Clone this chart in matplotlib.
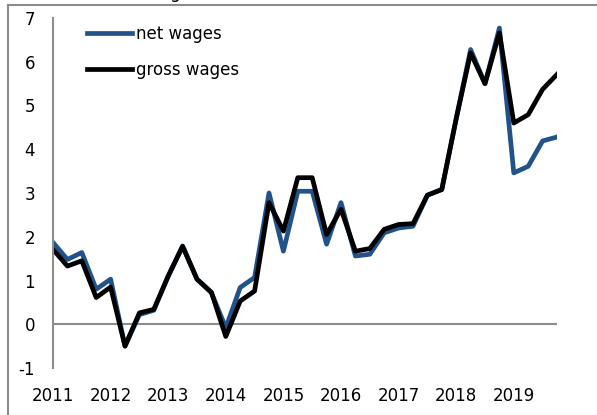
import matplotlib.pyplot as plt
from matplotlib.lines import Line2D
import numpy as np

plt.rcParams["axes.unicode_minus"] = False

# quarterly wage growth, 2011 Q1 - 2019 Q4 (%)
years = ["2011", "2012", "2013", "2014", "2015", "2016", "2017", "2018", "2019"]

net_wages = [1.87, 1.48, 1.64, 0.80, 1.03, -0.50, 0.22, 0.32, 1.10, 1.79,
             1.03, 0.72, -0.08, 0.84, 1.07, 3.00, 1.67, 3.04, 3.04, 1.83,
             2.78, 1.56, 1.60, 2.09, 2.20, 2.24, 2.95, 3.08, 4.70, 6.28,
             5.50, 6.77, 3.46, 3.61, 4.19, 4.28]

gross_wages = [1.71, 1.33, 1.45, 0.61, 0.85, -0.50, 0.26, 0.34, 1.10, 1.78,
               1.03, 0.73, -0.28, 0.53, 0.76, 2.78, 2.13, 3.35, 3.35, 2.05,
               2.63, 1.67, 1.73, 2.17, 2.28, 2.30, 2.95, 3.08, 4.70, 6.20,
               5.50, 6.66, 4.60, 4.79, 5.37, 5.71]

net_color = "#22528a"
grid_gray = "#8c8c8c"

fig = plt.figure(figsize=(5.97, 4.15), dpi=100)
ax = fig.add_axes([53 / 597, 1 - 368 / 415, (557 - 53) / 597, (368 - 18) / 415])

x = np.arange(len(net_wages))
ax.plot(x, net_wages, color=net_color, lw=3.4, solid_joinstyle="round", label="net wages")
ax.plot(x, gross_wages, color="black", lw=3.4, solid_joinstyle="round", label="gross wages")

ax.axhline(0, color=grid_gray, lw=1.5, zorder=0)

ax.set_xlim(0, len(net_wages) - 1)
ax.set_ylim(-1, 7)
ax.set_yticks(range(-1, 8))
ax.set_xticks(np.arange(0, len(net_wages), 4))
ax.set_xticklabels(years)

for side in ["top", "right", "bottom"]:
    ax.spines[side].set_visible(False)
ax.spines["left"].set_color(grid_gray)
ax.spines["left"].set_linewidth(1.5)

ax.tick_params(axis="y", length=0, pad=13, labelsize=12)
ax.tick_params(axis="x", length=0, pad=14, labelsize=12)

handles = [Line2D([], [], color=net_color, lw=3.4),
           Line2D([], [], color="black", lw=3.4)]
ax.legend(handles, ["net wages", "gross wages"], loc="upper left",
          bbox_to_anchor=(87 / 597, 1 - 25 / 415), bbox_transform=fig.transFigure,
          frameon=False, fontsize=12, handlelength=2.7, handletextpad=0.25,
          labelspacing=1.1, borderpad=0, borderaxespad=0)

# outer chart frame (cropped)
fig.add_artist(Line2D([8 / 597, 1], [1 - 5 / 415, 1 - 5 / 415], color=grid_gray, lw=1.5,
                      transform=fig.transFigure))
fig.add_artist(Line2D([8 / 597, 8 / 597], [0, 1 - 5 / 415], color=grid_gray, lw=1.5,
                      transform=fig.transFigure))

# title mostly cut off at the top, as in the source
fig.text(25 / 597, 1 + 2 / 415, "(total nominal wages, in %)", fontsize=12,
         va="baseline", ha="left")

fig.savefig("out.png", dpi=100)
